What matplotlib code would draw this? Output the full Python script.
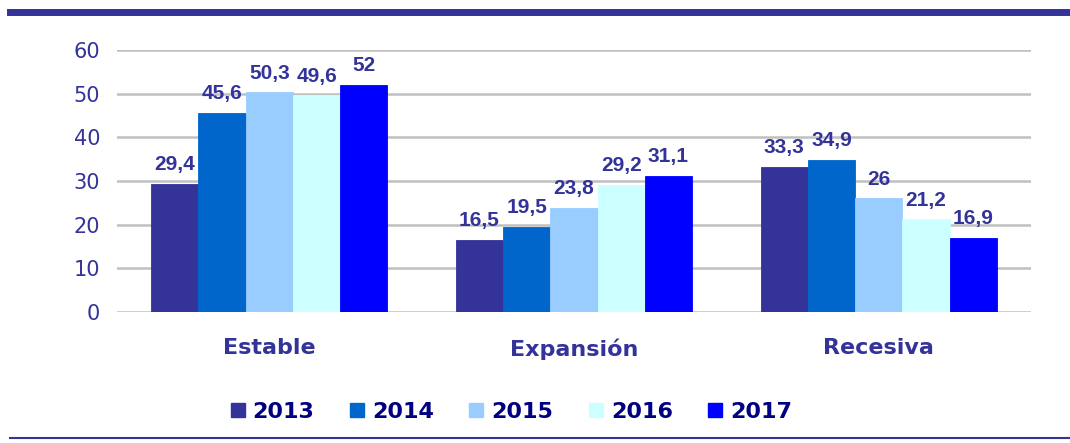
import matplotlib
matplotlib.use("Agg")
import matplotlib.pyplot as plt
from matplotlib.patches import Patch
from matplotlib.lines import Line2D
import numpy as np

categories = ["Estable", "Expansión", "Recesiva"]
years = ["2013", "2014", "2015", "2016", "2017"]
values = {
    "2013": [29.4, 16.5, 33.3],
    "2014": [45.6, 19.5, 34.9],
    "2015": [50.3, 23.8, 26.0],
    "2016": [49.6, 29.2, 21.2],
    "2017": [52.0, 31.1, 16.9],
}
colors = ["#333399", "#0066CC", "#99CCFF", "#CCFFFF", "#0000FF"]

label_color = "#333399"
legend_color = "#000080"

fig = plt.figure(figsize=(10.7, 4.43), dpi=100)
fig.patch.set_facecolor("white")
ax = fig.add_axes([0.1093, 0.2957, 0.8543, 0.5914])

x = np.arange(len(categories))
width = 0.155
for i, (year, color) in enumerate(zip(years, colors)):
    offs = (i - 2) * width
    bars = ax.bar(x + offs, values[year], width, color=color, zorder=3,
                  edgecolor=color, linewidth=0.6)
    for b, v in zip(bars, values[year]):
        txt = f"{v:g}".replace(".", ",")
        ax.annotate(txt, (b.get_x() + b.get_width() / 2, v),
                    xytext=(0, 7), textcoords="offset points",
                    ha="center", va="bottom", fontsize=15, fontweight="bold",
                    family="Liberation Sans", color=label_color)

ax.set_xlim(-0.5, 2.5)
ax.set_ylim(0, 60)
ax.set_yticks(range(0, 61, 10))
ax.yaxis.grid(True, color="#c0c0c0", linewidth=1.8, zorder=0)
ax.set_axisbelow(True)
for s in ax.spines.values():
    s.set_visible(False)
ax.tick_params(axis="y", length=0, pad=12, labelsize=15, labelcolor=label_color)
ax.tick_params(axis="x", length=0, pad=19)
ax.set_xticks(x)
ax.set_xticklabels(categories, fontsize=16, fontweight="bold", color=label_color)

# legend
handles = [Patch(facecolor=c, edgecolor=c) for c in colors]
leg = fig.legend(handles, years, loc="center", bbox_to_anchor=(0.478, 0.07), ncol=5,
                 frameon=False, handlelength=0.63, handleheight=0.63,
                 handletextpad=0.36, columnspacing=1.6,
                 prop={"size": 16, "weight": "bold"})
for t in leg.get_texts():
    t.set_color(legend_color)

# decorative top and bottom rules
fig.add_artist(Line2D([10 / 1070, 1.0], [1 - 12 / 443] * 2, color="#333399",
                      linewidth=5, transform=fig.transFigure))
fig.add_artist(Line2D([10 / 1070, 1.0], [1 - 438 / 443] * 2, color="#333399",
                      linewidth=1.5, transform=fig.transFigure))

fig.savefig("out.png", dpi=100, facecolor="white")
plt.close(fig)
